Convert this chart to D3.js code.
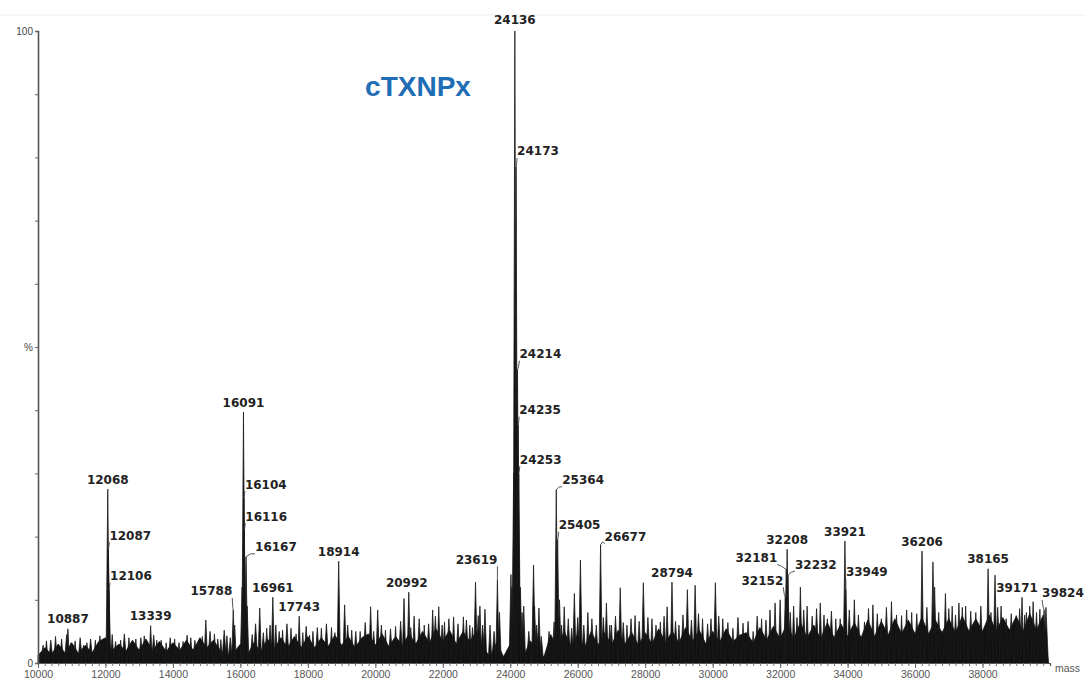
<!DOCTYPE html>
<html><head><meta charset="utf-8">
<script src="https://cdn.jsdelivr.net/npm/d3@7"></script>
<style>html,body{margin:0;padding:0;background:#fff;}svg{display:block;}</style>
</head><body><svg id="c" width="1086" height="686"></svg>
<script>
// ---- data ----
const chartTitle = "cTXNPx";
const xTickLabels = [10000,12000,14000,16000,18000,20000,22000,24000,26000,28000,30000,32000,34000,36000,38000];
const yTicks = [0,10,20,30,40,50,60,70,80,90,100];

// labelled peaks (mass, relative intensity %)
const peakMass = [10887,12068,12087,12106,13339,15788,16091,16104,16116,16167,16961,17743,18914,20992,23619,24136,24173,24214,24235,24253,25364,25405,26677,28794,32152,32181,32208,32232,33921,33949,36206,38165,39171,39824];
const peakInt  = [5.4,27.5,18.0,11.6,5.9,8.4,39.7,26.1,21.0,16.8,10.4,7.4,16.1,11.2,13.1,100,78.5,46.4,37.7,29.9,27.4,19.5,18.7,12.8,10.4,14.8,18.0,13.9,19.3,11.6,17.7,14.9,10.4,8.4];

// unlabelled peaks
const minorMass = [10250,10520,10700,11100,11450,11700,11836,12200,12450,12695,12900,13150,13520,13800,14050,14300,14530,14760,14975,15230,15420,15600,15830,16050,16200,16573,16780,17050,17250,17500,17850,18150,18400,18700,19090,19300,19550,19860,20070,20300,20600,20850,21150,21450,21700,21880,22050,22320,22610,22800,22970,23100,23250,23400,23680,24020,24050,24100,24300,24350,24400,24690,24720,24850,25460,25600,25900,26080,26300,26850,27000,27260,27460,27700,27945,28200,28450,28650,29000,29250,29480,29700,30080,30300,30600,30900,31200,31450,31700,31850,32000,32400,32600,32800,33190,33400,33650,34200,34500,34750,35000,35300,35600,35900,36530,36580,36900,37100,37300,37500,37800,38370,38550,38700,39000,39300,39500,39700];
const minorInt  = [3.5,4.2,3.8,3.5,3.2,3.6,4.3,4.5,3.6,4.0,3.8,4.3,3.6,3.2,3.8,3.4,4.0,3.5,6.8,4.6,3.7,4.3,6.0,12,9,8.7,5.5,6,5.2,5.5,4.8,5,5.5,5.6,9.2,5.2,5,8.9,8.4,5.2,5.8,10.2,7.4,6,8.4,8.9,6.5,7.3,7.3,6,12.8,9,8.5,6,8,14,12,30,12,8,9,15.5,9,8.7,10,8.9,11,16.3,8,9.5,6,11.9,6,7.5,12.7,7,6.5,8.9,6,11.6,12.3,7,12.7,7,5.5,6.3,5,7,8.4,9.5,10,9,12,9,9.5,7,7,10,6.5,9.2,7,9.7,7.5,8,16,12,11,9,9.5,9,8,13.9,9,7,7.5,8,9.7,8.5];

// low "grass" peaks on the noise floor
const grassMass = [10150,10380,10620,10850,10980,11250,11350,11560,11920,12300,12560,12780,13050,13250,13430,13650,13920,14180,14420,14650,14870,15100,15330,15520,15700,16350,16450,16680,16880,17150,17380,17650,17950,18050,18280,18550,18800,19180,19420,19700,19950,20180,20450,20750,21050,21300,21580,21780,21980,22180,22450,22700,22880,23050,23180,23520,24550,24780,24920,25150,25300,25520,25720,25820,26000,26180,26420,26550,26760,26950,27120,27350,27580,27820,28080,28320,28560,28900,29120,29370,29580,29850,29950,30180,30450,30750,31050,31320,31580,32300,32500,32700,32950,33080,33300,33520,33780,34050,34320,34620,34880,35150,35450,35750,36050,36350,36700,37000,37200,37400,37650,37950,38250,38450,38850,39100,39250,39400,39600,39880];
const grassInt  = [2.8,3.6,2.6,4.5,3.2,4.0,2.8,3.8,3.0,3.4,4.6,3.2,4.0,3.0,4.4,3.6,4.0,3.2,4.4,3.6,4.2,5.0,3.8,5.2,4.0,4.5,6.2,4.8,6.0,5.0,6.2,4.6,5.8,4.4,5.6,6.2,4.8,6.0,5.0,6.4,5.0,6.0,5.4,6.6,5.6,7.0,6.2,7.4,6.0,7.0,6.2,6.8,5.6,7.5,6.0,5.0,5.0,6.0,4.2,5.0,6.5,6.0,7.0,5.5,7.2,6.0,7.0,6.0,7.2,6.0,7.4,6.4,7.0,6.6,7.2,6.0,7.4,6.6,7.6,6.8,7.8,6.2,7.0,7.4,6.4,7.2,6.6,7.4,6.8,8.0,7.2,8.4,7.4,8.6,7.6,8.2,7.0,8.4,7.6,8.6,7.8,8.8,7.6,8.4,7.8,8.8,8.0,8.6,7.6,8.8,8.2,9.0,8.0,8.8,7.8,8.6,7.6,9.0,8.0,8.8];

// noise floor of the spectrum
const floorMass = [10000,10200,10400,10600,10800,11000,11200,11400,11600,11800,12000,12200,12400,12600,12800,13000,13200,13400,13600,13800,14000,14200,14400,14600,14800,15000,15200,15400,15600,15800,16000,16200,16400,16600,16800,17000,17200,17400,17600,17800,18000,18200,18400,18600,18800,19000,19200,19400,19600,19800,20000,20200,20400,20600,20800,21000,21200,21400,21600,21800,22000,22200,22400,22600,22800,23000,23200,23400,23600,23800,24000,24200,24400,24600,24800,25000,25200,25400,25600,25800,26000,26200,26400,26600,26800,27000,27200,27400,27600,27800,28000,28200,28400,28600,28800,29000,29200,29400,29600,29800,30000,30200,30400,30600,30800,31000,31200,31400,31600,31800,32000,32200,32400,32600,32800,33000,33200,33400,33600,33800,34000,34200,34400,34600,34800,35000,35200,35400,35600,35800,36000,36200,36400,36600,36800,37000,37200,37400,37600,37800,38000,38200,38400,38600,38800,39000,39200,39400,39600,39800,39950];
const floorInt = [1.2,2.4,1.4,3.0,1.6, 3.2,1.5,2.8,1.6,3.4, 4.0,2.0,3.0,1.8,3.6, 2.0,3.8,2.0,3.4,1.8, 3.2,2.0,3.6,2.0,4.0, 2.4,3.6,2.0,1.2,1.6, 3.0,1.2,3.2,1.8,3.8, 2.2,4.0,2.4,4.2,2.4, 4.2,2.4,4.0,2.6,4.4, 2.8,4.2,2.4,4.0,4.6, 2.8,4.6,2.6,4.2,2.8, 4.6,3.0,5.0,3.2,5.4, 3.4,5.2,3.0,5.0,3.4, 5.0,2.4,1.0,3.2,1.0, 3.0,4.0,1.2,3.5,1.6, 1.0,4.5,2.2,5.0,2.6, 4.6,2.4,5.0,2.8,4.8, 2.8,5.2,3.0,4.8,2.8, 4.8,3.0,5.4,3.2,5.0, 3.2,5.6,3.4,5.2,3.0, 5.0,3.2,5.4,3.4,4.4, 4.8,3.2,5.6,3.6,5.8, 3.8,6.2,3.8,6.4,4.0, 6.0,3.8,6.4,4.0,6.2, 4.2,6.4,4.0,6.8,4.2, 6.6,4.4,7.0,4.6,6.8, 4.6,7.2,4.6,6.8,4.8, 7.0,4.8,7.4,5.0,7.0, 5.0,7.6,5.0,7.2,5.2, 7.4,5.0,7.8,5.2,7.6, 0];

// ---- label layout (anchor, dx, dy from the peak top, px) ----
const labelLayout = {
  10887:["middle",0,-9], 12068:["middle",0,-9], 12087:["start",1,-13], 12106:["start",1,-13],
  13339:["middle",0,-9], 15788:["end",-1,-18], 16091:["middle",0,-9], 16104:["start",1,-13],
  16116:["start",1,-13], 16167:["start",9,-9], 16961:["middle",0,-9], 17743:["middle",0,-9],
  18914:["middle",0,-9], 20992:["middle",-2,-9], 23619:["end",0,-20], 24136:["middle",0,-11],
  24173:["start",1,-15], 24214:["start",2,-15], 24235:["start",1,-14], 24253:["start",1,-14],
  25364:["start",6,-9], 25405:["start",1,-14], 26677:["start",4,-7], 28794:["middle",0,-9],
  32152:["end",-2,-16], 32181:["end",-9,-11], 32208:["middle",0,-9], 32232:["start",7,-10],
  33921:["middle",0,-9], 33949:["start",0,-17], 36206:["middle",0,-9], 38165:["middle",0,-9],
  39171:["middle",-5,-9], 39824:["start",-2,-16]
};

// ---- drawing ----
const svg = d3.select("#c");
const x = d3.scaleLinear().domain([10000,40000]).range([38,1050]);
const y = d3.scaleLinear().domain([0,100]).range([663,31]);

svg.append("line").attr("x1",0).attr("x2",1086).attr("y1",15).attr("y2",15)
  .attr("stroke","#eeeeee").attr("stroke-width",1);

// noise floor
const floorData = floorMass.map((m,i)=>({m, v: floorInt[i]}));
svg.append("path").datum(floorData)
  .attr("d", d3.area().x(d=>x(d.m)).y0(y(0)).y1(d=>y(d.v)))
  .attr("fill","#111").attr("stroke","#111").attr("stroke-width",0.8);

// peaks as narrow spikes
const spike = (m,v,hw)=>`M${x(m-hw)},${y(0)}L${x(m)},${y(v)}L${x(m+hw)},${y(0)}Z`;
const grass = grassMass.map((m,i)=>({m,v:grassInt[i],hw:70}));
const allPeaks = grass
  .concat(minorMass.map((m,i)=>({m,v:minorInt[i],hw:55})))
  .concat(peakMass.map((m,i)=>({m,v:peakInt[i],hw:50})));
svg.append("g").selectAll("path").data(allPeaks).join("path")
  .attr("d", d=>spike(d.m,d.v,d.hw))
  .attr("fill","#111").attr("stroke","#1a1a1a").attr("stroke-width",0.8);

// axes
const yAxis = d3.axisLeft(y).tickValues(yTicks).tickSize(3).tickPadding(2)
  .tickFormat(d=> d===100?"100": d===50?"%": d===0?"0":"");
const gy = svg.append("g").attr("transform","translate(38,0)").call(yAxis);
gy.select(".domain").attr("stroke","#555").attr("stroke-width",1.6);
gy.selectAll(".tick line").attr("stroke","#666");
gy.selectAll("text").attr("font-family","Liberation Sans, Arial, sans-serif").attr("font-size",10).attr("fill","#444");

const xMinor = d3.axisBottom(x).tickValues(floorMass.slice(0,-1)).tickSize(3).tickFormat("");
const gxm = svg.append("g").attr("transform","translate(0,663)").call(xMinor);
gxm.select(".domain").attr("stroke","#555").attr("stroke-width",1.2);
gxm.selectAll(".tick line").attr("stroke","#777");
const xAxis = d3.axisBottom(x).tickValues(xTickLabels).tickSize(5).tickPadding(3).tickFormat(d3.format("d"));
const gx = svg.append("g").attr("transform","translate(0,663)").call(xAxis);
gx.select(".domain").remove();
gx.selectAll(".tick line").attr("stroke","#666");
gx.selectAll("text").attr("font-family","Liberation Sans, Arial, sans-serif").attr("font-size",10.5).attr("fill","#555");
svg.append("text").attr("x",1055).attr("y",672).text("mass")
  .attr("font-family","Liberation Sans, Arial, sans-serif").attr("font-size",10.5).attr("fill","#555");

// peak labels
const gl = svg.append("g");
peakMass.forEach((m,i)=>{
  const [anchor,dx,dy] = labelLayout[m];
  const px = x(m), py = y(peakInt[i]);
  const tx = px+dx, ty = py+dy;
  if(anchor!=="middle"){
    gl.append("path").attr("d",`M${px},${py}L${(px+tx)/2},${py-3}L${tx},${ty+6}`)
      .attr("fill","none").attr("stroke","#444").attr("stroke-width",0.9);
  }
  gl.append("text").attr("x",tx).attr("y",ty).attr("text-anchor",anchor)
    .attr("dominant-baseline","middle")
    .attr("font-family","DejaVu Sans, Verdana, sans-serif").attr("font-weight","bold")
    .attr("font-size",12).attr("fill","#222").text(String(m));
});

svg.append("text").attr("x",418).attr("y",89).attr("text-anchor","middle")
  .attr("dominant-baseline","middle")
  .attr("font-family","Liberation Sans, Arial, sans-serif").attr("font-weight","bold")
  .attr("font-size",28).attr("fill","#1f6db5").text(chartTitle);
</script></body></html>
